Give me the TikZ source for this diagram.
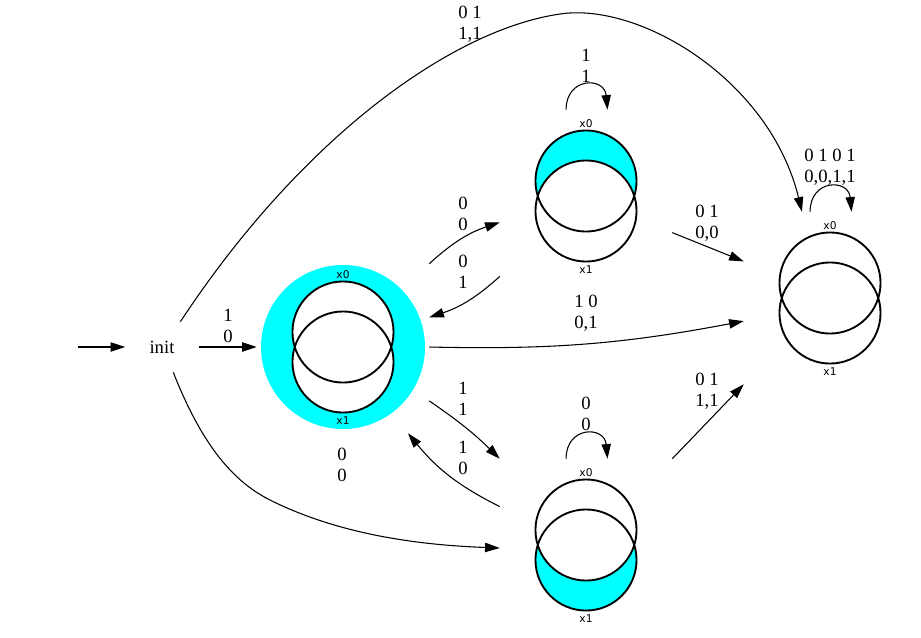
\documentclass[tikz,border=0pt]{standalone}
\usepackage{fontspec}
\setmainfont{Liberation Serif}
\newfontfamily\varfont{DejaVu Sans}
\usetikzlibrary{arrows.meta, calc}
\definecolor{stcyan}{RGB}{0,255,255}
\tikzset{
  edge/.style={line width=0.8pt, -{Triangle[length=11pt,width=7pt]}},
  lbl/.style={align=center, font=\fontsize{14}{15.5}\selectfont, inner sep=0pt},
  varlbl/.style={font=\varfont\fontsize{8}{9}\selectfont, inner sep=0pt},
  ring/.style={line width=1.4pt},
  statebox/.style={minimum width=129pt, minimum height=129pt, inner sep=0pt},
}

\begin{document}
\begin{tikzpicture}[x=0.75pt, y=-0.75pt]
  \useasboundingbox (0,0) rectangle (921,637);
  % states
  \node[statebox] (s0) at (343,347) {};
  \node[statebox] (s1) at (586,196) {};
  \node[statebox] (s2) at (586,545) {};
  \node[statebox] (s3) at (830,298) {};
  \node[lbl, minimum width=54.75pt, minimum height=37.5pt] (init) at (162,347) {init};
  \coordinate (start) at (78,347);
  % s0: cyan ring round both circles
  \fill[stcyan] (s0) circle[radius=61.5pt];
  \fill[white] ($(s0)+(0,-15)$) circle[radius=37.9pt] ($(s0)+(0,15)$) circle[radius=37.9pt];
  % s1: upper crescent
  \fill[stcyan] ($(s1)+(0,-15)$) circle[radius=37.9pt];
  \fill[white] ($(s1)+(0,15)$) circle[radius=37.9pt];
  % s2: lower crescent
  \fill[stcyan] ($(s2)+(0,15)$) circle[radius=37.9pt];
  \fill[white] ($(s2)+(0,-15)$) circle[radius=37.9pt];
  % x0 above, x1 below
  \foreach \s in {s0,s1,s2,s3} {
    \draw[ring] ($(\s)+(0,-15)$) circle[radius=37.9pt] ($(\s)+(0,15)$) circle[radius=37.9pt];
    \node[varlbl] (\s-x0) at ($(\s)+(0,-72)$) {x0};
    \node[varlbl] (\s-x1) at ($(\s)+(0,74)$) {x1};
  }
  % transitions
  \draw[edge] (init.54) .. controls (300,140) and (450,30) .. (560,14)
    .. controls (640,2) and (770,80) .. (s3.108);
  \node[lbl] (l-init-s3) at (470,24) {0 1\\1,1};
  \draw[edge] (start) -- (init.west);
  \draw[edge] (init.east) -- (s0.west);
  \node[lbl] (l-init-s0) at (228,326) {1\\0};
  \draw[edge] (init.-66) .. controls (200,440) and (230,480) .. (270,500)
    .. controls (340,535) and (420,545) .. (s2.182);
  \node[lbl] (l-init-s2) at (342,465) {0\\0};
  \draw[edge] (s0.44) to[bend left=12] (s1.197.4);
  \node[lbl] (l-s0-s1) at (463,214) {0\\0};
  \draw[edge] (s1.223.3) to[bend left=12] (s0.19.4);
  \node[lbl] (l-s1-s0) at (463,272) {0\\1};
  \draw[edge] (s0.east) to[bend right=6] (s3.195.1);
  \node[lbl] (l-s0-s3) at (586,313) {1 0\\0,1};
  \draw[edge] (s0.-32.9) to[bend left=5] (s2.135);
  \node[lbl] (l-s0-s2) at (463,399) {1\\1};
  \draw[edge] (s2.156.7) to[bend left=12] (s0.-53.9);
  \node[lbl] (l-s2-s0) at (463,458) {1\\0};
  \draw[edge] (s1.-23.3) -- (s3.157.6);
  \node[lbl] (l-s1-s3) at (707,223) {0 1\\0,0};
  \draw[edge] (s2.45) -- (s3.225.7);
  \node[lbl] (l-s2-s3) at (707,391) {0 1\\1,1};
  % self loops
  \draw[edge] (s1.103.7) .. controls +(0,-33) and +(-3,-33) .. (s1.76.3);
  \node[lbl] (l-s1-s1) at (586,66) {1\\1};
  \draw[edge] (s2.103.7) .. controls +(0,-33) and +(-3,-33) .. (s2.76.3);
  \node[lbl] (l-s2-s2) at (586,414) {0\\0};
  \draw[edge] (s3.103.7) .. controls +(0,-33) and +(-3,-33) .. (s3.76.3);
  \node[lbl] (l-s3-s3) at (830,167) {0 1 0 1\\0,0,1,1};
\end{tikzpicture}
\end{document}
